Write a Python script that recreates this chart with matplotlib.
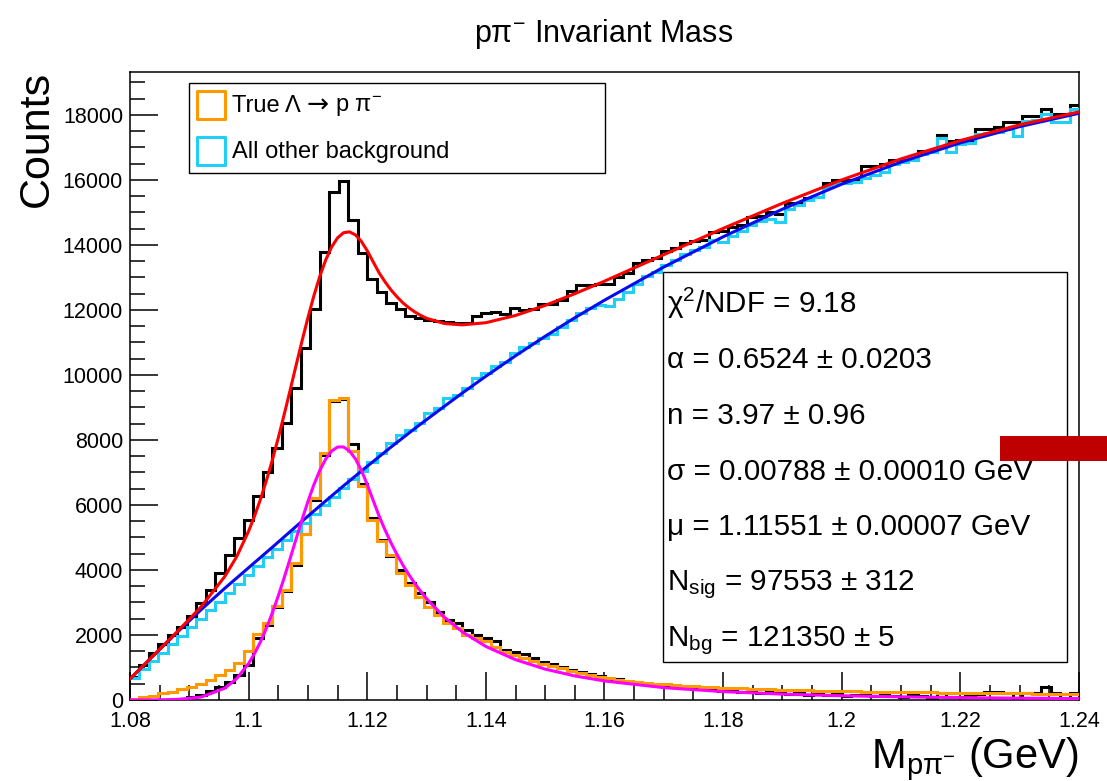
import numpy as np
import matplotlib
matplotlib.use("Agg")
import matplotlib.pyplot as plt
from matplotlib.patches import Rectangle

plt.rcParams['font.family'] = ['Liberation Sans', 'DejaVu Sans']
plt.rcParams['mathtext.fontset'] = 'custom'
plt.rcParams['mathtext.rm'] = 'Liberation Sans'
plt.rcParams['mathtext.it'] = 'Liberation Sans:italic'
plt.rcParams['mathtext.sf'] = 'Liberation Sans'

# histogram binning: 100 bins from 1.08 to 1.24 GeV
x_lo, x_hi, n_bins = 1.08, 1.24, 100

# all candidates (black)
total_counts = [720, 1080, 1450, 1720, 2000, 2260, 2570, 2970, 3390, 3900,
                4460, 4970, 5540, 6290, 7010, 7760, 8520, 9600, 10840, 12030,
                13790, 15620, 15970, 14780, 13760, 12950, 12550, 12220, 12020, 11820,
                11740, 11690, 11670, 11620, 11610, 11610, 11820, 11900, 11950, 11880,
                12060, 12000, 12020, 12190, 12190, 12320, 12580, 12770, 12770, 12800,
                12800, 13000, 13150, 13450, 13550, 13600, 13800, 13900, 14050, 14120,
                14150, 14400, 14420, 14550, 14600, 14850, 14900, 15000, 14950, 15280,
                15300, 15450, 15480, 15900, 16000, 16000, 16000, 16420, 16420, 16500,
                16620, 16620, 16620, 16900, 16900, 17390, 17190, 17230, 17230, 17580,
                17580, 17640, 17770, 17770, 17960, 17960, 18180, 18030, 18030, 18310]

# all other background (cyan)
background_counts = [680, 950, 1210, 1460, 1720, 1980, 2240, 2500, 2770, 3030,
                     3300, 3570, 3850, 4130, 4400, 4660, 4930, 5200, 5460, 5730,
                     6000, 6260, 6530, 6800, 7060, 7330, 7590, 7900, 8150, 8300,
                     8510, 8820, 8980, 9280, 9390, 9590, 9900, 10050, 10280, 10410,
                     10670, 10850, 10990, 11150, 11250, 11480, 11700, 11900, 12050, 12150,
                     12130, 12340, 12550, 12800, 13040, 13170, 13390, 13540, 13730, 13840,
                     13940, 14150, 14090, 14280, 14420, 14600, 14750, 14800, 14700, 15110,
                     15220, 15380, 15480, 15790, 15890, 15900, 15930, 16050, 16150, 16250,
                     16500, 16560, 16620, 16800, 16870, 17290, 16850, 17100, 17150, 17400,
                     17450, 17480, 17560, 17360, 17800, 17850, 18020, 17770, 17770, 18180]

# true Lambda -> p pi- (orange)
true_lambda_counts = [30, 80, 130, 200, 260, 330, 390, 490, 610, 770,
                      920, 1150, 1500, 2040, 2360, 2900, 3390, 4200, 5120, 6200,
                      7600, 9220, 9290, 7650, 6580, 5550, 4900, 4450, 3900, 3540,
                      3180, 2870, 2620, 2360, 2200, 2000, 1900, 1800, 1640, 1490,
                      1390, 1290, 1200, 1120, 1040, 970, 900, 840, 780, 720,
                      670, 630, 590, 565, 530, 505, 480, 460, 445, 420,
                      405, 390, 380, 365, 355, 350, 335, 325, 320, 305,
                      300, 295, 292, 280, 278, 270, 268, 260, 255, 252,
                      245, 242, 238, 235, 232, 228, 225, 224, 220, 215,
                      213, 210, 206, 202, 200, 198, 196, 192, 190, 188]

# background-subtracted signal (black, lower)
signal_counts = [0, 0, 0, 0, 10, 30, 80, 150, 290, 410,
                 560, 770, 1080, 1900, 2300, 2850, 3350, 4150, 5100, 6150,
                 7550, 9200, 9270, 7870, 6630, 5600, 4920, 4430, 4000, 3590,
                 3280, 3030, 2720, 2460, 2360, 2150, 2000, 1900, 1800, 1540,
                 1490, 1400, 1290, 1180, 1120, 1010, 930, 870, 790, 740,
                 660, 640, 560, 540, 490, 470, 430, 420, 380, 370,
                 330, 340, 290, 300, 260, 280, 230, 250, 210, 190,
                 200, 150, 180, 160, 190, 120, 140, 170, 110, 150,
                 130, 90, 160, 120, 60, 210, 100, 80, 130, 170,
                 256, 250, 205, 10, 225, 225, 410, 205, 0, 205]

# fit curves sampled along the mass axis
curve_x = [1.080, 1.084, 1.088, 1.092, 1.096, 1.098, 1.100, 1.101, 1.102, 1.103,
           1.104, 1.105, 1.106, 1.107, 1.108, 1.109, 1.110, 1.111, 1.112, 1.113,
           1.114, 1.115, 1.116, 1.117, 1.118, 1.119, 1.120, 1.121, 1.122, 1.123,
           1.124, 1.125, 1.126, 1.127, 1.128, 1.129, 1.130, 1.133, 1.136, 1.140,
           1.145, 1.150, 1.155, 1.160, 1.170, 1.180, 1.190, 1.200, 1.210, 1.220,
           1.230, 1.240]
bg_fit = [650, 1375, 2090, 2780, 3440, 3755, 4070, 4228, 4385, 4543,
          4700, 4860, 5020, 5180, 5340, 5498, 5655, 5813, 5970, 6125,
          6280, 6435, 6590, 6740, 6890, 7040, 7190, 7338, 7485, 7633,
          7780, 7923, 8065, 8208, 8350, 8488, 8625, 9035, 9440, 9960,
          10590, 11190, 11760, 12300, 13320, 14250, 15100, 15870, 16550, 17140,
          17640, 18050]
sig_fit = [0, 3, 18, 91, 363, 661, 1125, 1432, 1791, 2211,
           2683, 3204, 3765, 4353, 4954, 5545, 6108, 6623, 7064, 7414,
           7658, 7784, 7785, 7662, 7420, 7071, 6630, 6141, 5657, 5231,
           4836, 4483, 4155, 3861, 3590, 3345, 3118, 2547, 2100, 1647,
           1240, 950, 740, 585, 380, 258, 181, 131, 97, 73,
           56, 44]
total_fit = [650, 1378, 2108, 2871, 3803, 4416, 5195, 5660, 6176, 6754,
             7383, 8064, 8785, 9533, 10294, 11043, 11763, 12436, 13034, 13539,
             13938, 14219, 14375, 14402, 14310, 14111, 13820, 13479, 13142, 12864,
             12616, 12406, 12220, 12069, 11940, 11833, 11743, 11582, 11540, 11607,
             11830, 12140, 12500, 12885, 13700, 14508, 15281, 16001, 16647, 17213,
             17696, 18094]

stat_lines = [r'χ$^{2}$/NDF = 9.18',
              'α = 0.6524 ± 0.0203',
              'n = 3.97 ± 0.96',
              'σ = 0.00788 ± 0.00010 GeV',
              'μ = 1.11551 ± 0.00007 GeV',
              r'N$_{\mathrm{sig}}$ = 97553 ± 312',
              r'N$_{\mathrm{bg}}$ = 121350 ± 5']

x_ticks = [1.08, 1.10, 1.12, 1.14, 1.16, 1.18, 1.20, 1.22, 1.24]
x_tick_labels = ['1.08', '1.1', '1.12', '1.14', '1.16', '1.18', '1.2', '1.22', '1.24']

orange = '#FF9900'
cyan = '#1FCFF5'

W, H = 1107, 781
fig = plt.figure(figsize=(W / 100, H / 100), dpi=100)
ax = fig.add_axes([130 / W, 1 - 700 / H, 949 / W, 628 / H])

edges = np.linspace(x_lo, x_hi, n_bins + 1)
lw = 2.2
ax.stairs(total_counts, edges, color='black', lw=lw, baseline=None, zorder=2)
ax.stairs(signal_counts, edges, color='black', lw=lw, baseline=None, zorder=2)
ax.stairs(true_lambda_counts, edges, color=orange, lw=lw, baseline=None, zorder=3)
ax.stairs(background_counts, edges, color=cyan, lw=lw, baseline=None, zorder=3)

ax.plot(curve_x, bg_fit, color='#0A0AF0', lw=2.2, zorder=4)
ax.plot(curve_x, sig_fit, color='#FF00FF', lw=2.2, zorder=4)
ax.plot(curve_x, total_fit, color='#FF0000', lw=2.2, zorder=5)

ax.set_xlim(x_lo, x_hi)
ax.set_ylim(0, 19320)
ax.set_xticks(x_ticks)
ax.set_xticklabels(x_tick_labels)
ax.set_xticks(np.arange(1.08, 1.2401, 0.005), minor=True)
ax.set_yticks(np.arange(0, 18001, 2000))
ax.set_yticks(np.arange(0, 19001, 500), minor=True)
ax.tick_params(which='both', direction='in', top=False, right=False, width=1.1,
               labelsize=15.5)
ax.tick_params(axis='y', which='major', length=20, pad=5)
ax.tick_params(axis='x', which='major', length=20, pad=8)
ax.tick_params(which='minor', length=11)
for s in ax.spines.values():
    s.set_linewidth(1.1)

# axis titles and plot title (ROOT style placement)
fig.text(604 / W, 1 - 42 / H, r'pπ$^{-}$ Invariant Mass', ha='center', va='baseline', fontsize=22)
fig.text(37 / W, 1 - 71 / H, 'Counts', rotation=90, ha='center', va='top', fontsize=31)
fig.text(1078 / W, 1 - 768 / H, r'M$_{\mathrm{pπ}^{-}}$ (GeV)', ha='right', va='baseline', fontsize=30)

# legend box
def ax_x(px):
    return (px - 130) / 949

def ax_y(py):
    return (700 - py) / 628

ax.add_patch(Rectangle((ax_x(189), ax_y(173)), ax_x(605) - ax_x(189), ax_y(83) - ax_y(173),
                       transform=ax.transAxes, facecolor='white', edgecolor='black', lw=1.0, zorder=6))
for top, col in [(91, orange), (137, cyan)]:
    ax.add_patch(Rectangle((ax_x(197), ax_y(top + 28)), ax_x(225) - ax_x(197), ax_y(top) - ax_y(top + 28),
                           transform=ax.transAxes, facecolor='none', edgecolor=col, lw=2.2,
                           joinstyle='round', zorder=7))

t1 = ax.text(ax_x(232), ax_y(112), 'True Λ', transform=ax.transAxes, ha='left', va='baseline',
             fontsize=17, zorder=7)
t2 = ax.annotate('→', xy=(1, 0), xycoords=t1, xytext=(4, -1), textcoords='offset points',
                 ha='left', va='bottom', fontsize=19, family='DejaVu Sans', zorder=7)
fig.canvas.draw()
arrow_end = t2.get_window_extent().x1
x_after = ax.transAxes.inverted().transform((arrow_end + 7, 0))[0]
ax.text(x_after, ax_y(112), r'p π$^{-}$', transform=ax.transAxes, ha='left', va='baseline',
        fontsize=17, zorder=7)
ax.text(ax_x(232), ax_y(158), 'All other background', transform=ax.transAxes, ha='left',
        va='baseline', fontsize=17, zorder=7)

# fit statistics box
ax.add_patch(Rectangle((ax_x(663), ax_y(662)), ax_x(1067) - ax_x(663), ax_y(272) - ax_y(662),
                       transform=ax.transAxes, facecolor='white', edgecolor='black', lw=1.0, zorder=6))
for i, line in enumerate(stat_lines):
    ax.text(ax_x(667), ax_y(313 + 55.5 * i), line, transform=ax.transAxes, ha='left', va='baseline',
            fontsize=21.3, zorder=7)

# red marker bar at the right edge
fig.patches.append(Rectangle((1000 / W, 1 - 461 / H), 107 / W, 25 / H, transform=fig.transFigure,
                             facecolor='#BF0000', edgecolor='none', zorder=10))

fig.savefig('out.png', dpi=100)
